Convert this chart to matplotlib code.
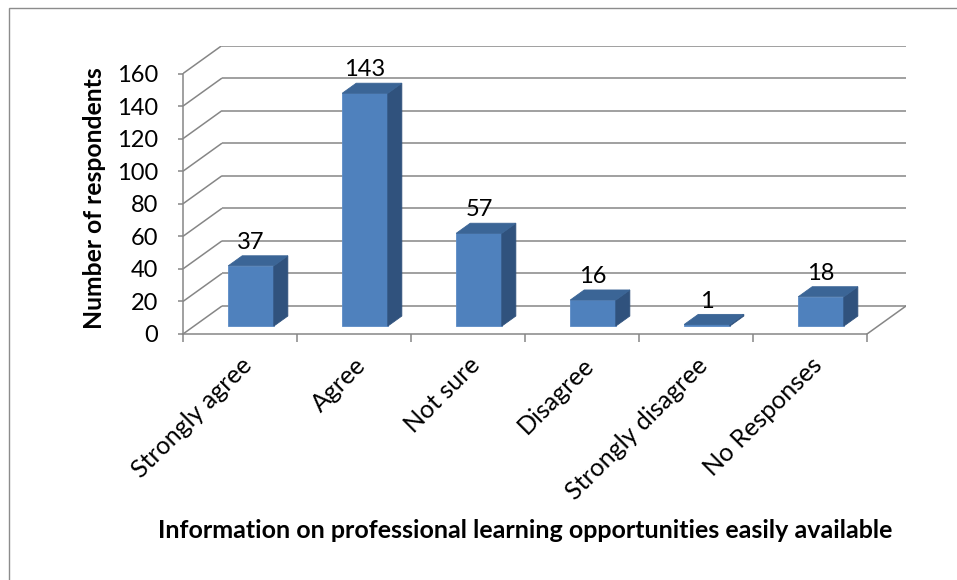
import matplotlib
matplotlib.use("Agg")
import matplotlib.pyplot as plt
from matplotlib.patches import Polygon, Rectangle
import numpy as np

categories = ["Strongly agree", "Agree", "Not sure", "Disagree", "Strongly disagree", "No Responses"]
values = [37, 143, 57, 16, 1, 18]
yticks = [0, 20, 40, 60, 80, 100, 120, 140, 160]
ylabel = "Number of respondents"
xlabel = "Information on professional learning opportunities easily available"

plt.rcParams['font.family'] = ['Lato', 'DejaVu Sans']

W, H = 957, 580
fig = plt.figure(figsize=(W / 100, H / 100), dpi=100)

# 3D depth offsets (in data units)
DX = 0.342      # category units
DY = 17.2       # value units
YMAX = 160
n = len(categories)

ax = fig.add_axes([183 / W, (H - 334) / H, (906 - 183) / W, (334 - 45.5) / H])
ax.set_xlim(0, n + DX)
ax.set_ylim(0, YMAX + DY)
ax.patch.set_visible(False)

grid_c = '#868686'
lw = 1.1
for t in yticks:
    ax.plot([0, DX], [t, t + DY], color=grid_c, lw=lw, zorder=1, solid_capstyle='butt')
    ax.plot([DX, n + DX], [t + DY, t + DY], color=grid_c, lw=lw, zorder=1, solid_capstyle='butt')
ax.plot([n, n + DX], [0, DY], color=grid_c, lw=lw, zorder=1)

# bars
f0, fd = 0.282, 0.36
bw = 0.40
front_c = '#4F81BD'
side_c = '#30527D'
top_c = '#3B6596'
for i, v in enumerate(values):
    xl = i + 0.5 - bw / 2 + f0 * DX
    xr = xl + bw
    b = f0 * DY
    ddx, ddy = fd * DX, fd * DY
    front = Rectangle((xl, b), bw, v, facecolor=front_c, edgecolor='#5B8BC6', lw=0.6, zorder=3)
    side = Polygon([(xr, b), (xr + ddx, b + ddy), (xr + ddx, b + ddy + v), (xr, b + v)],
                   closed=True, facecolor=side_c, edgecolor=side_c, lw=0.6, zorder=3)
    top = Polygon([(xl, b + v), (xr, b + v), (xr + ddx, b + v + ddy), (xl + ddx, b + v + ddy)],
                  closed=True, facecolor=top_c, edgecolor=top_c, lw=0.6, zorder=4)
    for p in (front, side, top):
        ax.add_patch(p)
    ax.annotate(str(v), xy=(xl + bw / 2, b + v + ddy), xytext=(0, 2), textcoords='offset points',
                ha='center', va='bottom', fontsize=17, color='black', zorder=5)

# spines and ticks
for s in ('top', 'right'):
    ax.spines[s].set_visible(False)
for s in ('left', 'bottom'):
    ax.spines[s].set_color(grid_c)
    ax.spines[s].set_linewidth(lw)
ax.spines['left'].set_bounds(0, YMAX)
ax.spines['bottom'].set_bounds(0, n)

ax.set_yticks(yticks)
ax.set_yticklabels([str(t) for t in yticks])
ax.tick_params(axis='y', direction='out', length=3.8, width=lw, color=grid_c,
               labelsize=17, pad=14)

ax.set_xticks(np.arange(0, n + 1))
ax.set_xticklabels([])
ax.set_xticks(np.arange(n) + 0.5, minor=True)
ax.set_xticklabels(categories, minor=True, rotation=45, ha='right', rotation_mode='anchor')
ax.tick_params(axis='x', which='major', direction='out', length=5.8, width=lw, color=grid_c)
ax.tick_params(axis='x', which='minor', length=0, labelsize=18, pad=14)

fig.text(95 / W, 1 - 198 / H, ylabel, rotation=90, ha='center', va='center',
         fontsize=17.8, fontweight='bold')
fig.text(525 / W, 1 - 530 / H, xlabel, ha='center', va='center',
         fontsize=18, fontweight='bold')

# outer chart border
fig.patches.append(Rectangle((9 / W, -0.1), 1.2, 1 - 8 / H + 0.1, transform=fig.transFigure,
                             fill=False, edgecolor='#8c8c8c', lw=1.0))

fig.savefig('out.png', dpi=100)
